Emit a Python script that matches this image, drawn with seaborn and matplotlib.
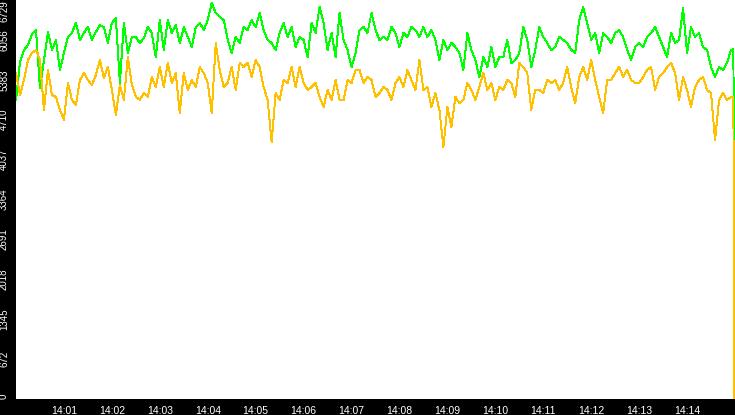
import pandas as pd
import matplotlib
matplotlib.use("Agg")
import matplotlib.pyplot as plt
import seaborn as sns

# samples every 5 s from 14:00:00
start = pd.Timestamp("2024-01-01 14:00:00")
step_seconds = 5

green = [
    5040, 5684, 5886, 5970, 6156, 6223, 5245, 5717, 6189, 5886, 6055, 5549, 5835, 6105, 6173,
    6341, 6055, 6173, 6274, 6055, 6189, 6307, 6274, 6004, 6341, 6426, 5330, 6341, 5835, 6105,
    6105, 6004, 6088, 6274, 6173, 5768, 6392, 5886, 6392, 6173, 6307, 6004, 6274, 6105, 5937,
    6274, 6341, 6223, 6392, 6678, 6510, 6442, 6392, 6055, 5835, 6105, 6004, 6274, 6223, 6392,
    6274, 6510, 6223, 6055, 6004, 5886, 6173, 6341, 6105, 6274, 5937, 6105, 6055, 5768, 6341,
    6173, 6610, 6341, 5886, 6173, 5768, 6510, 6055, 5886, 5599, 5835, 6223, 6274, 6173, 6510,
    6223, 6055, 6105, 6055, 6274, 6173, 5937, 6173, 6105, 6274, 6223, 6105, 6274, 6105, 6223,
    6055, 5717, 6055, 5886, 6004, 5937, 5835, 5549, 6173, 5886, 5717, 5431, 5768, 5599, 5937,
    5599, 5768, 5768, 6055, 5667, 5717, 5835, 6274, 6055, 5599, 5886, 6274, 6105, 6004, 5886,
    5937, 6105, 6055, 6004, 5886, 5835, 6392, 6610, 6341, 6055, 6173, 5835, 6173, 6105, 6004,
    6173, 6223, 6105, 5886, 5717, 5937, 6004, 5937, 6105, 6173, 6274, 6105, 5937, 5768, 6173,
    6004, 6055, 6590, 5835, 6274, 6105, 6173, 5937, 5886, 5599, 5431, 5599, 5549, 5667, 5886,
]

yellow = [
    5498, 5127, 5380, 5717, 5835, 5886, 5717, 4874, 5549, 5127, 5094, 4874, 4706, 5330, 5043,
    4959, 5380, 5498, 5380, 5296, 5464, 5717, 5414, 5599, 5212, 4790, 5296, 5043, 5768, 5296,
    5094, 5043, 5161, 5094, 5431, 5262, 5599, 5262, 5667, 5330, 5498, 4824, 5498, 5212, 5380,
    5262, 5599, 5498, 5330, 4824, 6004, 5549, 5262, 5330, 5599, 5212, 5667, 5599, 5667, 5431,
    5717, 5599, 5262, 5043, 4330, 5161, 5043, 5380, 5330, 5599, 5262, 5599, 5330, 5212, 5262,
    5330, 5094, 4925, 5212, 5043, 5380, 5043, 5043, 5380, 5330, 5549, 5549, 5330, 5431, 5380,
    5094, 5161, 5262, 5212, 5043, 5330, 5431, 5262, 5549, 5380, 5212, 5717, 5212, 5262, 4925,
    5161, 4874, 4250, 4925, 4588, 5094, 4992, 5043, 5330, 5212, 5043, 5262, 5498, 5212, 5330,
    5043, 5262, 5212, 5380, 5330, 5094, 5667, 5599, 5498, 4874, 5212, 5212, 5161, 5380, 5330,
    5380, 5212, 5330, 5599, 5262, 4992, 5431, 5599, 5380, 5717, 5380, 5094, 4824, 5380, 5380,
    5498, 5599, 5431, 5549, 5380, 5330, 5330, 5431, 5549, 5599, 5212, 5431, 5498, 5599, 5667,
    5498, 5043, 5431, 5212, 4925, 5262, 5380, 5431, 5212, 5161, 4370, 5043, 5161, 5043, 5094,
]

# the last two samples: one more normal reading, then both lines fall away
tail_seconds = [898, 899]
green_tail = [5900, 2690]
yellow_tail = [5100, 0]

yticks = [0, 672, 1345, 2018, 2691, 3364, 4037, 4710, 5383, 6056, 6729]
xtick_minutes = list(range(1, 15))
xtick_labels = ["14:%02d" % m for m in xtick_minutes]

times = list(pd.date_range(start, periods=len(green), freq="%ds" % step_seconds))
times += [start + pd.Timedelta(seconds=s) for s in tail_seconds]

df = pd.concat([
    pd.DataFrame({"time": times, "value": green + green_tail, "series": "green"}),
    pd.DataFrame({"time": times, "value": yellow + yellow_tail, "series": "yellow"}),
])

sns.set_style("white")
plt.rcParams["font.family"] = ["Liberation Sans", "DejaVu Sans"]

fig = plt.figure(figsize=(7.35, 4.15), dpi=100, facecolor="black")
ax = fig.add_axes([16 / 735, 16 / 415, 719 / 735, 399 / 415])
ax.set_facecolor("white")

sns.lineplot(data=df, x="time", y="value", hue="series", hue_order=["green", "yellow"],
             palette={"yellow": "#ffc000", "green": "#00ff00"}, linewidth=0.7,
             estimator=None, sort=False, legend=False, ax=ax)
for line in ax.lines:
    line.set_antialiased(False)

ax.set_xlim(start, start + pd.Timedelta(minutes=15))
ax.set_ylim(0, 6729)

ax.set_xticks([start + pd.Timedelta(minutes=m) for m in xtick_minutes])
ax.set_xticklabels(xtick_labels, fontsize=7.5, color="white")
ax.set_yticks(yticks)
ax.set_yticklabels([str(v) for v in yticks], fontsize=7, color="white",
                   rotation=90, va="center")
ax.get_yticklabels()[-1].set_va("top")
ax.get_yticklabels()[0].set_va("bottom")

ax.tick_params(axis="both", colors="white", length=4, width=1, direction="out", pad=1)
ax.set_xlabel("")
ax.set_ylabel("")
for s in ax.spines.values():
    s.set_visible(False)

plt.savefig("out.png", dpi=100, facecolor="black")
